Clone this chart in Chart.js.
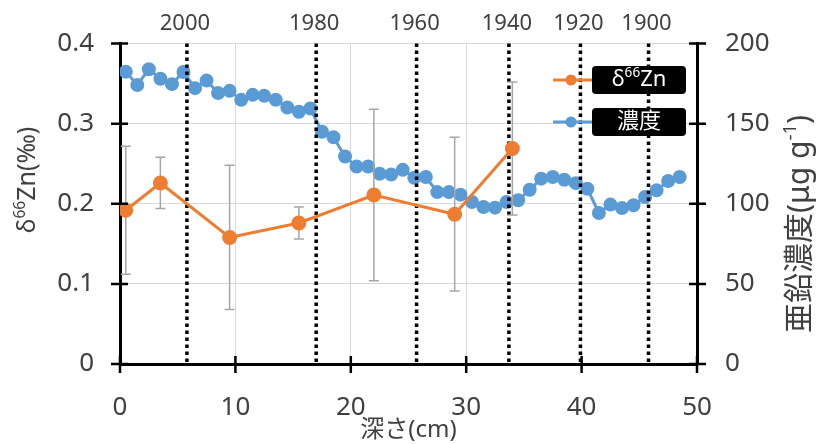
<!DOCTYPE html>
<html>
<head>
<meta charset="utf-8">
<script src="https://cdn.jsdelivr.net/npm/chart.js@4.4.0/dist/chart.umd.min.js"></script>
<style>
  html, body { margin: 0; background: #fff; }
</style>
</head>
<body>
<canvas id="chart" width="819" height="444"></canvas>
<script>
// ------------------------------
// Data
// ------------------------------
const zincDepth = [0.5, 3.5, 9.5, 15.5, 22, 29, 34];
const zincDelta = [0.192, 0.226, 0.158, 0.176, 0.211, 0.187, 0.269];
const zincErr   = [0.080, 0.032, 0.090, 0.020, 0.107, 0.096, 0.083];

const concDepth = [0.5, 1.5, 2.5, 3.5, 4.5, 5.5, 6.5, 7.5, 8.5, 9.5,
  10.5, 11.5, 12.5, 13.5, 14.5, 15.5, 16.5, 17.5, 18.5, 19.5,
  20.5, 21.5, 22.5, 23.5, 24.5, 25.5, 26.5, 27.5, 28.5, 29.5,
  30.5, 31.5, 32.5, 33.5, 34.5, 35.5, 36.5, 37.5, 38.5, 39.5,
  40.5, 41.5, 42.5, 43.5, 44.5, 45.5, 46.5, 47.5, 48.5];
const concValues = [182.5, 174.2, 184.0, 178.1, 174.7, 182.3, 172.2, 176.9, 169.1, 170.5,
  164.9, 168.0, 167.4, 164.9, 160.1, 157.5, 159.5, 145.0, 141.5, 129.5,
  123.3, 123.3, 118.8, 118.3, 121.2, 116.3, 116.7, 107.3, 107.3, 105.7,
  101.1, 98.0, 97.6, 101.1, 102.2, 108.8, 115.7, 116.7, 115.0, 112.9,
  109.4, 94.3, 99.5, 97.4, 99.1, 104.2, 108.4, 114.2, 116.7];

// dated horizons (depth in cm) and their years
const eventDepth = [5.8, 17.0, 25.7, 33.7, 39.9, 45.8];
const eventYears = ["2000", "1980", "1960", "1940", "1920", "1900"];

const xTicks = [0, 10, 20, 30, 40, 50];
const leftTicks = [0, 0.1, 0.2, 0.3, 0.4];
const rightTicks = [0, 50, 100, 150, 200];

// ------------------------------
// Styling
// ------------------------------
const ORANGE = "#ED7D31";
const BLUE = "#5B9BD5";
const TEXT = "#404040";
const GRID = "#d9d9d9";
const FONT = "'Noto Sans', 'Noto Sans CJK JP', sans-serif";

Chart.defaults.font.family = FONT;
Chart.defaults.color = TEXT;

// draws mixed normal / superscript text centred on (0,0)
function drawRich(ctx, parts, size, color) {
  let total = 0;
  parts.forEach(p => {
    ctx.font = `${p.sup ? size * 0.62 : size}px ${FONT}`;
    p.w = ctx.measureText(p.t).width;
    total += p.w;
  });
  let x = -total / 2;
  ctx.fillStyle = color;
  ctx.textAlign = "left";
  ctx.textBaseline = "middle";
  parts.forEach(p => {
    ctx.font = `${p.sup ? size * 0.62 : size}px ${FONT}`;
    ctx.fillText(p.t, x, p.sup ? -size * 0.3 : 0);
    x += p.w;
  });
}

const decorations = {
  id: "decorations",
  beforeDatasetDraw(chart, args) {
    // error bars under the δ66Zn markers
    if (args.index !== 0) return;
    const { ctx, scales: { x, y } } = chart;
    ctx.save();
    ctx.strokeStyle = "#a6a6a6";
    ctx.lineWidth = 1.5;
    zincDepth.forEach((d, i) => {
      const px = x.getPixelForValue(d);
      const top = y.getPixelForValue(zincDelta[i] + zincErr[i]);
      const bot = y.getPixelForValue(zincDelta[i] - zincErr[i]);
      ctx.beginPath();
      ctx.moveTo(px, top); ctx.lineTo(px, bot);
      ctx.moveTo(px - 5, top); ctx.lineTo(px + 5, top);
      ctx.moveTo(px - 5, bot); ctx.lineTo(px + 5, bot);
      ctx.stroke();
    });
    ctx.restore();
  },
  afterDatasetDraw(chart, args) {
    // dotted year lines over the concentration line
    if (args.index !== 1) return;
    const { ctx, chartArea, scales: { x } } = chart;
    ctx.save();
    ctx.strokeStyle = "#000";
    ctx.lineWidth = 3.5;
    ctx.setLineDash([3.5, 3.5]);
    eventDepth.forEach(d => {
      const px = x.getPixelForValue(d);
      ctx.beginPath();
      ctx.moveTo(px, chartArea.top);
      ctx.lineTo(px, chartArea.bottom);
      ctx.stroke();
    });
    ctx.restore();
  },
  afterDraw(chart) {
    const { ctx, chartArea: a, scales: { x, y, y1 } } = chart;
    ctx.save();

    // crossing tick marks
    ctx.strokeStyle = "#000";
    ctx.lineWidth = 2.5;
    ctx.beginPath();
    xTicks.forEach(v => {
      const px = x.getPixelForValue(v);
      ctx.moveTo(px, a.bottom - 8); ctx.lineTo(px, a.bottom + 9);
    });
    leftTicks.forEach(v => {
      const py = y.getPixelForValue(v);
      ctx.moveTo(a.left - 9, py); ctx.lineTo(a.left + 8, py);
    });
    rightTicks.forEach(v => {
      const py = y1.getPixelForValue(v);
      ctx.moveTo(a.right - 8, py); ctx.lineTo(a.right + 9, py);
    });
    ctx.stroke();

    // year labels above the plot
    ctx.fillStyle = TEXT;
    ctx.font = `22px ${FONT}`;
    ctx.textAlign = "center";
    ctx.textBaseline = "middle";
    eventDepth.forEach((d, i) => ctx.fillText(eventYears[i], x.getPixelForValue(d) - 2, 24));

    // axis titles
    ctx.font = `24px ${FONT}`;
    ctx.fillText("深さ(cm)", (a.left + a.right) / 2, 430);

    ctx.save();
    ctx.translate(28, 180);
    ctx.rotate(-Math.PI / 2);
    drawRich(ctx, [{ t: "δ" }, { t: "66", sup: true }, { t: "Zn(‰)" }], 25, TEXT);
    ctx.restore();

    ctx.save();
    ctx.translate(800, 224);
    ctx.rotate(-Math.PI / 2);
    drawRich(ctx, [{ t: "亜鉛濃度(μg g" }, { t: "-1", sup: true }, { t: ")" }], 30, TEXT);
    ctx.restore();

    // legend
    const items = [
      { color: ORANGE, parts: [{ t: "δ" }, { t: "66", sup: true }, { t: "Zn" }], cy: 80 },
      { color: BLUE, parts: [{ t: "濃度" }], cy: 122 }
    ];
    items.forEach(it => {
      ctx.strokeStyle = it.color;
      ctx.lineWidth = 3;
      ctx.beginPath();
      ctx.moveTo(553, it.cy); ctx.lineTo(592, it.cy);
      ctx.stroke();
      ctx.fillStyle = it.color;
      ctx.beginPath();
      ctx.arc(571, it.cy, 5.5, 0, Math.PI * 2);
      ctx.fill();

      ctx.fillStyle = "#000";
      ctx.beginPath();
      ctx.roundRect(592, it.cy - 14, 94, 28, 4);
      ctx.fill();
      ctx.save();
      ctx.translate(639, it.cy);
      drawRich(ctx, it.parts, 22, "#fff");
      ctx.restore();
    });

    ctx.restore();
  }
};

new Chart(document.getElementById("chart"), {
  type: "line",
  data: {
    datasets: [
      {
        label: "δ66Zn",
        data: zincDepth.map((d, i) => ({ x: d, y: zincDelta[i] })),
        yAxisID: "y",
        borderColor: ORANGE,
        backgroundColor: ORANGE,
        pointBackgroundColor: ORANGE,
        pointBorderColor: ORANGE,
        borderWidth: 3,
        pointRadius: 6,
        tension: 0,
        order: 0
      },
      {
        label: "濃度",
        data: concDepth.map((d, i) => ({ x: d, y: concValues[i] })),
        yAxisID: "y1",
        borderColor: BLUE,
        backgroundColor: BLUE,
        pointBackgroundColor: BLUE,
        pointBorderColor: BLUE,
        borderWidth: 3,
        pointRadius: 5.5,
        tension: 0,
        order: 1
      }
    ]
  },
  options: {
    responsive: false,
    animation: false,
    layout: { padding: { top: 43, left: 0, right: 0, bottom: 0 } },
    plugins: { legend: { display: false }, tooltip: { enabled: false } },
    scales: {
      x: {
        type: "linear",
        min: 0, max: 50,
        afterBuildTicks: s => { s.ticks = xTicks.map(v => ({ value: v })); },
        afterFit: s => { s.height = 80; },
        grid: { color: GRID, lineWidth: 1, drawTicks: false },
        border: { color: "#000", width: 3 },
        ticks: { font: { size: 26 }, color: TEXT, padding: 28, maxRotation: 0 }
      },
      y: {
        position: "left",
        min: 0, max: 0.4,
        afterBuildTicks: s => { s.ticks = leftTicks.map(v => ({ value: v })); },
        afterFit: s => { s.width = 120; },
        grid: { color: GRID, lineWidth: 1, drawTicks: false },
        border: { color: "#000", width: 3 },
        ticks: { font: { size: 26 }, color: TEXT, padding: 26, callback: v => String(v) }
      },
      y1: {
        position: "right",
        min: 0, max: 200,
        afterBuildTicks: s => { s.ticks = rightTicks.map(v => ({ value: v })); },
        afterFit: s => { s.width = 122; },
        grid: { display: false, drawTicks: false },
        border: { color: "#000", width: 3 },
        ticks: { font: { size: 26 }, color: TEXT, padding: 28 }
      }
    }
  },
  plugins: [decorations]
});
</script>
</body>
</html>
